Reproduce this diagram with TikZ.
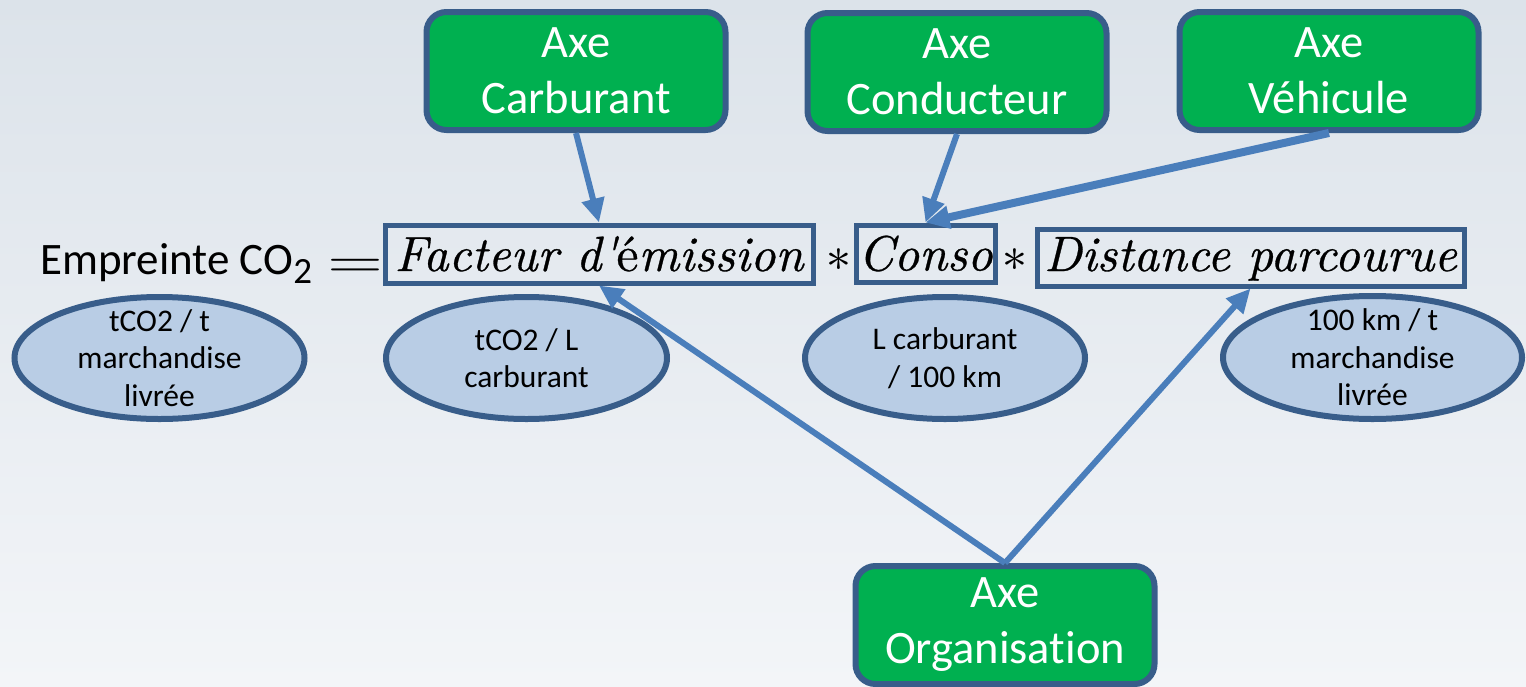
\documentclass[tikz,border=0pt]{standalone}
\usepackage{graphicx}
\usepackage{fontspec}
\setmainfont{Carlito}[Ligatures={NoCommon}]
\newfontface\termfont{lmroman10-italic}[Extension=.otf, FakeBold=0.6]
\newfontface\termup{lmroman10-regular}[Extension=.otf, FakeBold=0.6]
\newfontfamily\lmm{Latin Modern Math}
\usetikzlibrary{arrows.meta,shapes.geometric}
\definecolor{bordc}{HTML}{385D8A}
\definecolor{axegreen}{HTML}{00B050}
\definecolor{ellfill}{HTML}{B9CDE5}
\definecolor{arrowc}{HTML}{4A7EBB}
\definecolor{bgtop}{HTML}{DCE3EA}
\definecolor{bgbot}{HTML}{F3F5F8}
\tikzset{
  axe/.style={draw=bordc, line width=6pt, fill=axegreen, rounded corners=20pt,
    minimum width=299pt, minimum height=118pt, inner sep=0pt, align=center,
    text=white, font=\fontsize{46.5}{56}\selectfont},
  unit/.style={ellipse, draw=bordc, line width=6pt, fill=ellfill, inner sep=0pt},
  unittext/.style={align=center, inner sep=0pt, font=\fontsize{31.5}{37.5}\selectfont},
  term/.style={draw=bordc, line width=5pt, inner sep=0pt, text height=34pt,
    font=\termfont\fontsize{49.6}{60}\selectfont},
  mathsym/.style={anchor=base, inner sep=0pt, font=\lmm\fontsize{49.6}{60}\selectfont},
  link/.style={draw=arrowc, line width=6pt, -{Triangle[length=24pt,width=22pt]}},
}
\begin{document}
\begin{tikzpicture}[x=1pt,y=-1pt]
\shade[top color=bgtop,bottom color=bgbot] (0,0) rectangle (1526,686);
\useasboundingbox (0,0) rectangle (1526,686);

% axes
\node[axe] (carb) at (576,71) {Axe\\Carburant};
\node[axe] (cond) at (957,72) {Axe\\Conducteur};
\node[axe] (veh) at (1329,71) {Axe\\Véhicule};
\node[axe] (org) at (1005,625) {Axe\\Organisation};

% units
\node[unit, minimum width=290pt, minimum height=122pt] (u1) at (159.5,358) {};
\node[unittext] (t1) at (u1) {tCO2 / t\\marchandise\\livrée};
\node[unit, minimum width=281pt, minimum height=122pt] (u2) at (526.5,358) {};
\node[unittext] (t2) at (u2) {tCO2 / L\\carburant};
\node[unit, minimum width=280pt, minimum height=122pt] (u3) at (945,358) {};
\node[unittext] (t3) at (u3) {L carburant\\/ 100 km};
\node[unit, minimum width=299pt, minimum height=123pt] (u4) at (1372.5,357.5) {};
\node[unittext] (t4) at (u4) {100 km / t\\marchandise\\livrée};

% equation
\node[anchor=base west, inner sep=0pt, font=\fontsize{45}{54}\selectfont] (lhs) at (40,274)
  {Empreinte CO\raisebox{-9pt}{\fontsize{37}{37}\selectfont 2}};
\node[mathsym] (eq) at (355,277.4) {\scalebox{1.45}[1]{=}};
\node[term, minimum width=428pt, minimum height=58pt, text depth=0pt] (fac) at (599,254)
  {Facteur d'{\termup é}mission};
\node[mathsym] (s1) at (839,271) {∗};
\node[term, minimum width=139pt, minimum height=57pt, text depth=0pt] (conso) at (925.5,253.5) {Conso};
\node[mathsym] (s2) at (1015,271) {∗};
\node[term, minimum width=427pt, minimum height=57pt, text depth=7pt] (dist) at (1250.5,257.5)
  {Distance parcourue};

% links
\draw[link] (carb.south) -- (fac.north);
\draw[link] (cond.south) -- (conso.north);
\draw[link, line width=8pt] (veh.south) -- (conso.north);
\draw[link] (org.north) -- (fac.south);
\draw[link] (org.north) -- (dist.south);
\end{tikzpicture}
\end{document}
